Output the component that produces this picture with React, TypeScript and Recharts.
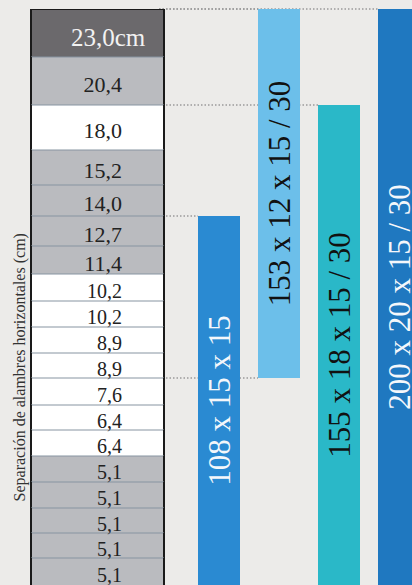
import React from "react";
import { BarChart, Bar, XAxis, YAxis, Cell, LabelList, ReferenceLine } from "recharts";

// wire spacing rows, top to bottom
const spacingLabels = [
  "23,0cm", "20,4", "18,0", "15,2", "14,0", "12,7", "11,4", "10,2", "10,2", "8,9",
  "8,9", "7,6", "6,4", "6,4", "5,1", "5,1", "5,1", "5,1", "5,1",
];
// relative height of each row as drawn in the table
const rowWeights = [4.8, 4.8, 4.5, 3.5, 3.1, 3.0, 2.8, 2.7, 2.6, 2.6, 2.5, 2.7, 2.5, 2.6, 2.6, 2.6, 2.5, 2.5, 2.7];
// 0 = header, 1 = grey, 2 = white
const rowShade = [0, 1, 2, 1, 1, 1, 1, 2, 2, 2, 2, 2, 2, 2, 1, 1, 1, 1, 1];

// mesh sizes and the rows each one covers
const meshLabels = ["108 x 15 x 15", "153 x 12 x 15 / 30", "155 x 18 x 15 / 30", "200 x 20 x 15 / 30"];
const meshFirstRow = [5, 0, 2, 0];
const meshLastRow = [18, 10, 18, 18];

const yTitle = "Separación de alambres horizontales (cm)";

const SHADES = ["#6b696c", "#babbbf", "#ffffff"];
const MESH_COLORS = ["#2a8ad2", "#6cbfea", "#2ab8c8", "#1f78c0"];
const MESH_TEXT = ["#f4f7fb", "#111111", "#111111", "#f4f7fb"];
const SERIF = "Liberation Serif, DejaVu Serif, serif";

const edges: number[] = [0];
rowWeights.forEach((w, i) => edges.push(+(edges[i] + w).toFixed(3)));
const total = edges[edges.length - 1];

const tableRow: Record<string, number | string> = { name: "sep" };
rowWeights.forEach((w, i) => {
  tableRow[`r${i}`] = w;
});

const meshData = meshLabels.map((name, i) => ({
  name,
  pos: i + 1,
  span: [edges[meshFirstRow[i]], edges[meshLastRow[i] + 1]],
}));

const HALF_BAR = 21 / 60; // half bar width in x units (60px per unit)

// reversed axis gives negative heights, so normalise the box
const box = (b: any) => {
  const top = Math.min(b.y, b.y + b.height);
  return { x: b.x, top, width: b.width, h: Math.abs(b.height) };
};

const makeCellShape = (row: number) => (p: any) => {
  const { x, top, width, h } = box(p);
  return (
    <g>
      <rect x={x} y={top} width={width} height={h} fill={SHADES[rowShade[row]]} />
      <line
        x1={x}
        x2={x + width}
        y1={top}
        y2={top}
        stroke={row === 0 ? "#1a1a1a" : "#8794a1"}
        strokeWidth={row === 0 ? 2 : 1}
      />
      <line x1={x} x2={x} y1={top} y2={top + h} stroke="#1a1a1a" strokeWidth={2} />
      <line x1={x + width} x2={x + width} y1={top} y2={top + h} stroke="#1a1a1a" strokeWidth={2} />
    </g>
  );
};

const makeRowLabel = (row: number) => (p: any) => {
  const { x, top, width, h } = box(p.viewBox ?? p);
  const head = row === 0;
  const fs = head ? 25 : row < 7 ? 22 : 20;
  const ty = top + h / 2 + fs * 0.35 + (head ? 4 : 3);
  return (
    <text
      x={head ? x + width * 0.58 : x + 91}
      y={ty}
      textAnchor={head ? "middle" : "end"}
      style={{ fontFamily: SERIF }}
      fontSize={fs}
      fill={head ? "#f2f2f2" : "#222222"}
    >
      {spacingLabels[row]}
    </text>
  );
};

const renderMeshLabel = (p: any) => {
  const { x, top, width, h } = box(p.viewBox ?? p);
  const cx = x + width / 2;
  const cy = top + h / 2;
  return (
    <text
      x={cx}
      y={cy}
      transform={`rotate(-90 ${cx} ${cy})`}
      textAnchor="middle"
      dominantBaseline="central"
      style={{ fontFamily: SERIF }}
      fontSize={31}
      fill={MESH_TEXT[p.index] ?? "#111"}
    >
      {p.value}
    </text>
  );
};

const renderYTitle = (p: any) => {
  const vb = p.viewBox ?? { x: 0, y: 9, width: 31, height: 576 };
  const cx = vb.x + 20;
  const cy = vb.y + vb.height * 0.622;
  return (
    <text
      x={cx}
      y={cy}
      transform={`rotate(-90 ${cx} ${cy})`}
      textAnchor="middle"
      dominantBaseline="central"
      style={{ fontFamily: SERIF }}
      fontSize={16}
      fill="#333333"
    >
      {yTitle}
    </text>
  );
};

export default function App() {
  const lines: { y: number; to: number }[] = [];
  meshData.forEach((m) => {
    lines.push({ y: m.span[0], to: m.pos - HALF_BAR });
    if (m.span[1] < total) lines.push({ y: m.span[1], to: m.pos - HALF_BAR });
  });

  return (
    <div
      style={{
        position: "absolute",
        left: 0,
        top: 0,
        width: 412,
        height: 585,
        overflow: "hidden",
        background: "#ecebe9",
      }}
    >
      <div style={{ position: "absolute", left: 159, top: 0 }}>
        <BarChart width={270} height={585} data={meshData} margin={{ top: 9, right: 0, bottom: 0, left: 0 }}>
          <XAxis type="number" dataKey="pos" domain={[0, 4.5]} allowDataOverflow hide />
          <YAxis type="number" domain={[0, total]} allowDataOverflow reversed hide />
          {lines.map((l, i) => (
            <ReferenceLine
              key={i}
              segment={[
                { x: 0, y: l.y },
                { x: l.to, y: l.y },
              ]}
              stroke="#9a9a9a"
              strokeWidth={1.6}
              strokeDasharray="1.5 2"
              zIndex={100}
            />
          ))}
          <Bar dataKey="span" barSize={42} isAnimationActive={false}>
            {meshData.map((m, i) => (
              <Cell key={m.name} fill={MESH_COLORS[i]} />
            ))}
            <LabelList dataKey="name" content={renderMeshLabel} />
          </Bar>
        </BarChart>
      </div>
      <div style={{ position: "absolute", left: 0, top: 0 }}>
        <BarChart
          width={165}
          height={585}
          data={[tableRow]}
          margin={{ top: 9, right: 1, bottom: 0, left: 0 }}
          barCategoryGap={0}
        >
          <XAxis dataKey="name" hide />
          <YAxis
            type="number"
            domain={[0, total]}
            allowDataOverflow
            reversed
            width={31}
            tick={false}
            tickLine={false}
            axisLine={false}
            label={{ value: yTitle, content: renderYTitle }}
          />
          {rowWeights.map((_, i) => (
            <Bar
              key={i}
              dataKey={`r${i}`}
              stackId="t"
              fill={SHADES[rowShade[i]]}
              shape={makeCellShape(i)}
              isAnimationActive={false}
            >
              <LabelList content={makeRowLabel(i)} />
            </Bar>
          ))}
        </BarChart>
      </div>
    </div>
  );
}
